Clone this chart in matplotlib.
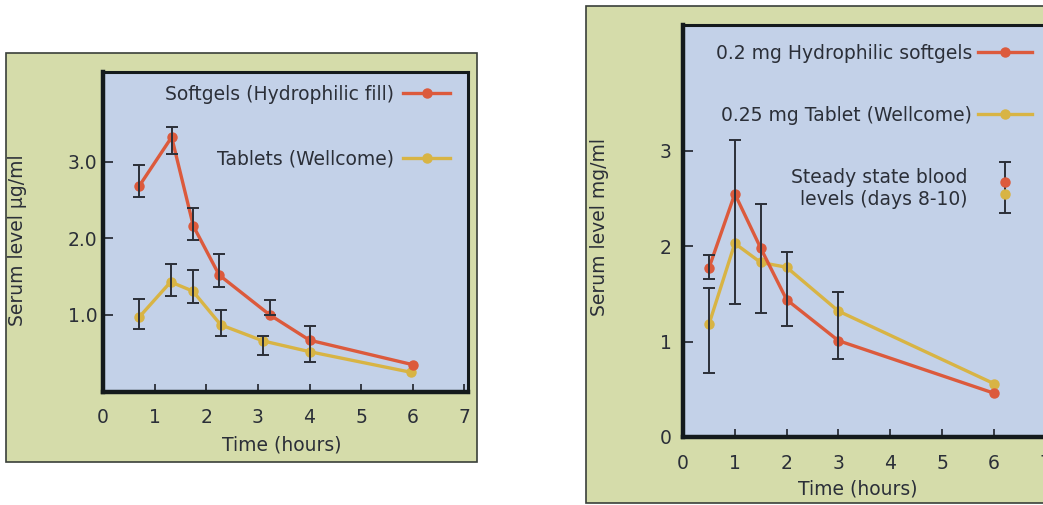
import matplotlib.pyplot as plt
from matplotlib.patches import Rectangle

# ---- data ----
# left panel: serum level (ug/ml)
left_soft_x = [0.7, 1.33, 1.75, 2.25, 3.23, 4.0, 6.0]
left_soft_y = [2.68, 3.32, 2.16, 1.52, 1.00, 0.67, 0.35]
left_tab_x = [0.7, 1.31, 1.74, 2.28, 3.1, 4.0, 5.97]
left_tab_y = [0.97, 1.43, 1.31, 0.87, 0.66, 0.52, 0.25]
# error bars (x, low, high)
left_bar_x = [0.7, 1.33, 1.75, 2.25, 3.23, 0.7, 1.31, 1.74, 2.28, 3.1, 4.0]
left_bar_lo = [2.54, 3.10, 1.98, 1.37, 1.00, 0.82, 1.25, 1.15, 0.72, 0.48, 0.39]
left_bar_hi = [2.96, 3.45, 2.40, 1.79, 1.20, 1.21, 1.67, 1.59, 1.07, 0.72, 0.86]

# right panel: serum level (mg/ml)
right_x = [0.5, 1, 1.5, 2, 3, 6]
right_soft_y = [1.77, 2.55, 1.98, 1.44, 1.01, 0.46]
right_tab_y = [1.18, 2.03, 1.83, 1.78, 1.32, 0.56]
right_bar_x = [0.5, 0.5, 1, 1.5, 2, 3]
right_bar_lo = [1.66, 0.67, 1.39, 1.30, 1.16, 0.82]
right_bar_hi = [1.91, 1.56, 3.11, 2.44, 1.94, 1.52]
# steady state blood levels (days 8-10)
steady_x = 6.22
steady_soft = 2.67
steady_tab = 2.55
steady_lo, steady_hi = 2.35, 2.88

x_ticks = [0, 1, 2, 3, 4, 5, 6, 7]

RED = '#dc5a3c'
YEL = '#d8b444'
CARD = '#d5dcaa'
BLUE = '#c3d1e8'
INK = '#2b2f38'
SPINE = '#141a1c'

plt.rcParams['font.family'] = ['DejaVu Sans']
plt.rcParams['font.size'] = 13.5
plt.rcParams['text.color'] = INK

W, H = 1043, 505
fig = plt.figure(figsize=(W / 100, H / 100), dpi=100)
fig.patch.set_facecolor('white')

# green cards behind the plots
fig.patches.append(Rectangle((6 / W, 43 / H), 471 / W, 409 / H, transform=fig.transFigure,
                             facecolor=CARD, edgecolor='#3a3f3a', lw=1.2, zorder=-1))
fig.patches.append(Rectangle((586 / W, 2 / H), 480 / W, 497 / H, transform=fig.transFigure,
                             facecolor=CARD, edgecolor='#3a3f3a', lw=1.2, zorder=-1))

ax1 = fig.add_axes([103 / W, 113.5 / H, 365 / W, 319.5 / H])
ax2 = fig.add_axes([683 / W, 68 / H, 373 / W, 412 / H])


def style(ax, xlim, ylim, yticks, ylabels, ypad):
    ax.set_facecolor(BLUE)
    ax.set_xlim(*xlim)
    ax.set_ylim(*ylim)
    ax.set_xticks(x_ticks)
    ax.set_xticklabels([str(t) for t in x_ticks])
    ax.set_yticks(yticks)
    ax.set_yticklabels(ylabels)
    for side in ['left', 'bottom']:
        ax.spines[side].set_linewidth(3.2)
    for side in ['top', 'right']:
        ax.spines[side].set_linewidth(2.2)
    for sp in ax.spines.values():
        sp.set_color(SPINE)
    ax.tick_params(axis='x', direction='in', length=6, width=1.3, color=INK,
                   pad=12, labelsize=13.5, labelcolor=INK)
    ax.tick_params(axis='y', direction='in', length=7, width=1.3, color=INK,
                   pad=ypad, labelsize=13.5, labelcolor=INK)


style(ax1, (0, 7.07), (0, 4.17), [1, 2, 3], ['1.0', '2.0', '3.0'], 4)
style(ax2, (0, 7.2), (0, 4.32), [0, 1, 2, 3], ['0', '1', '2', '3'], 8)

# ---- left panel ----
ax1.plot(left_tab_x, left_tab_y, color=YEL, lw=2.4, marker='o', ms=6.5,
         label='Tablets (Wellcome)')
ax1.plot(left_soft_x, left_soft_y, color=RED, lw=2.4, marker='o', ms=6.5,
         label='Softgels (Hydrophilic fill)')
mid = [(lo + hi) / 2 for lo, hi in zip(left_bar_lo, left_bar_hi)]
half = [(hi - lo) / 2 for lo, hi in zip(left_bar_lo, left_bar_hi)]
ax1.errorbar(left_bar_x, mid, yerr=half, fmt='none', ecolor=INK, elinewidth=1.4,
             capsize=4, capthick=1.4, zorder=5)
h, l = ax1.get_legend_handles_labels()
ax1.legend(h[::-1], l[::-1], loc='upper right', bbox_to_anchor=(0.951, 0.96),
           frameon=False, markerfirst=False, handlelength=2.5, handletextpad=0.5,
           labelspacing=2.45, borderpad=0, borderaxespad=0, fontsize=13.5)
ax1.set_xlabel('Time (hours)', fontsize=13.5, color=INK)
ax1.xaxis.set_label_coords(0.49, -0.139)
ax1.set_ylabel('Serum level µg/ml', fontsize=13.5, color=INK)
ax1.yaxis.set_label_coords(-0.208, 0.475)

# ---- right panel ----
ax2.plot(right_x, right_tab_y, color=YEL, lw=2.4, marker='o', ms=6.5,
         label='0.25 mg Tablet (Wellcome)')
ax2.plot(right_x, right_soft_y, color=RED, lw=2.4, marker='o', ms=6.5,
         label='0.2 mg Hydrophilic softgels')
mid = [(lo + hi) / 2 for lo, hi in zip(right_bar_lo, right_bar_hi)]
half = [(hi - lo) / 2 for lo, hi in zip(right_bar_lo, right_bar_hi)]
ax2.errorbar(right_bar_x, mid, yerr=half, fmt='none', ecolor=INK, elinewidth=1.4,
             capsize=4.5, capthick=1.4, zorder=5)
ax2.errorbar([steady_x], [(steady_lo + steady_hi) / 2], yerr=[(steady_hi - steady_lo) / 2],
             fmt='none', ecolor=INK, elinewidth=1.4, capsize=4.5, capthick=1.4, zorder=5)
ax2.plot([steady_x], [steady_soft], 'o', color=RED, ms=6.5, zorder=6)
ax2.plot([steady_x], [steady_tab], 'o', color=YEL, ms=6.5, zorder=6)
ax2.text(5.5, 2.61, 'Steady state blood\nlevels (days 8-10)', ha='right', va='center',
         multialignment='right', fontsize=13.5, color=INK)
h, l = ax2.get_legend_handles_labels()
ax2.legend(h[::-1], l[::-1], loc='upper right', bbox_to_anchor=(0.936, 0.955),
           frameon=False, markerfirst=False, handlelength=2.9, handletextpad=0.3,
           labelspacing=2.3, borderpad=0, borderaxespad=0, fontsize=13.5)
ax2.set_xlabel('Time (hours)', fontsize=13.5, color=INK)
ax2.xaxis.set_label_coords(0.469, -0.102)
ax2.set_ylabel('Serum level mg/ml', fontsize=13.5, color=INK)
ax2.yaxis.set_label_coords(-0.198, 0.51)

fig.savefig('out.png', dpi=100)
